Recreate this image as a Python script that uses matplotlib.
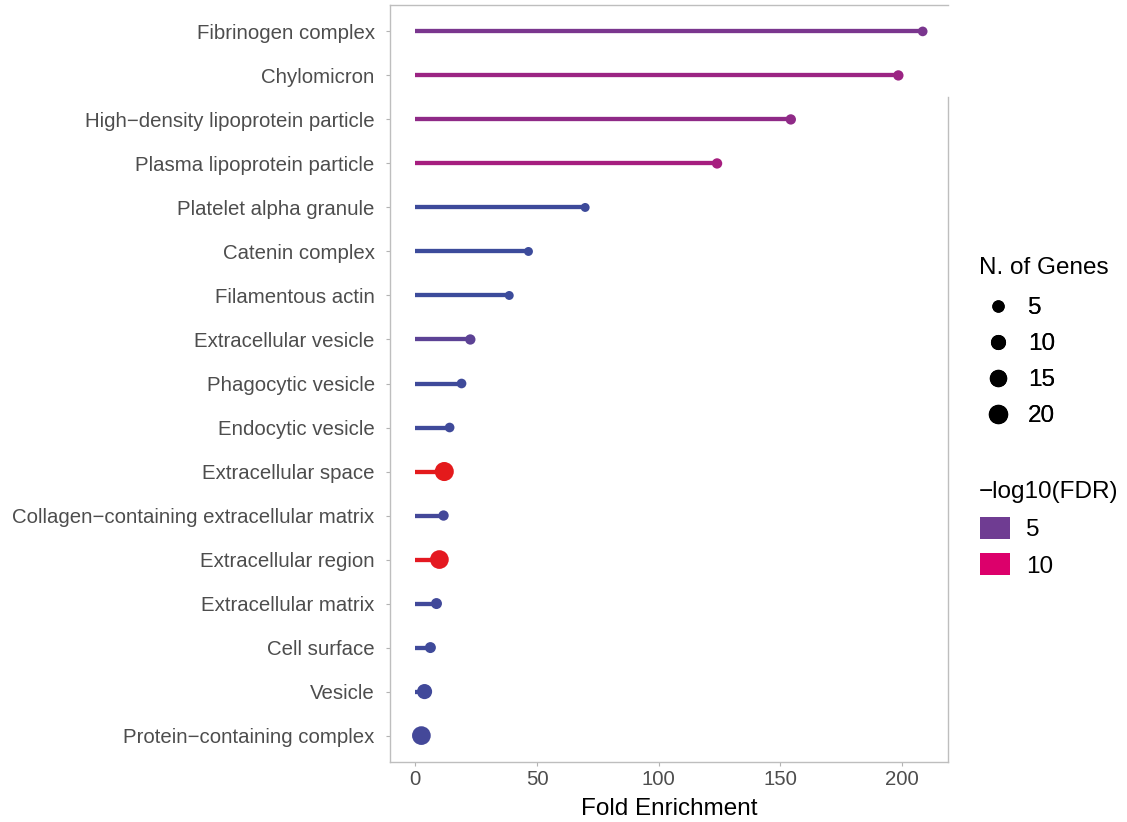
import numpy as np
import matplotlib
matplotlib.use("Agg")
import matplotlib.pyplot as plt
from matplotlib.colors import LinearSegmentedColormap
from matplotlib.lines import Line2D
from matplotlib.patches import Patch

plt.rcParams['font.family'] = ['Liberation Sans', 'DejaVu Sans']

# GO cellular component terms, top to bottom
terms = ["Fibrinogen complex", "Chylomicron", "High\u2212density lipoprotein particle",
         "Plasma lipoprotein particle", "Platelet alpha granule", "Catenin complex",
         "Filamentous actin", "Extracellular vesicle", "Phagocytic vesicle",
         "Endocytic vesicle", "Extracellular space",
         "Collagen\u2212containing extracellular matrix", "Extracellular region",
         "Extracellular matrix", "Cell surface", "Vesicle", "Protein\u2212containing complex"]
fold = [208.5, 198.5, 154.3, 124.0, 69.8, 46.5, 38.6, 22.6, 19.0, 14.1, 11.9,
        11.6, 9.9, 8.7, 6.2, 3.8, 2.5]
genes = [3, 4, 4, 4, 2, 2, 2, 4, 3, 3, 23, 4, 22, 5, 5, 13, 22]
fdr = [5.5, 7.0, 6.5, 7.5, 2.2, 2.1, 2.1, 3.9, 2.3, 2.3, 13.0, 2.6, 12.8, 2.4, 2.3, 2.4, 2.6]

size_breaks = [5, 10, 15, 20]
fdr_breaks = [5, 10]

fdr_lo, fdr_hi = 2.0, 13.0
cmap = LinearSegmentedColormap.from_list("fdr", [
    (0.0, "#3A4B9B"),
    ((5 - fdr_lo) / (fdr_hi - fdr_lo), "#6F3C92"),
    ((10 - fdr_lo) / (fdr_hi - fdr_lo), "#DC006C"),
    (1.0, "#E41A1C")])


def fdr_colour(v):
    return cmap((v - fdr_lo) / (fdr_hi - fdr_lo))


def gene_size(g):
    # marker area in pt^2, area grows linearly with gene count
    return 0.5184 * (53 + 13.5 * g)


W, H = 1127, 822
fig = plt.figure(figsize=(W / 100, H / 100), dpi=100)
ax = fig.add_axes([390 / W, 60 / H, 558 / W, 757 / H])

n = len(terms)
ypos = np.arange(n)[::-1]
colours = [fdr_colour(v) for v in fdr]

for yi, f, c in zip(ypos, fold, colours):
    ax.plot([0, f], [yi, yi], color=c, lw=3.1, solid_capstyle="butt", zorder=2)
ax.scatter(fold, ypos, s=[gene_size(g) for g in genes], c=colours,
           linewidths=0, zorder=3)

ax.set_xlim(-10.4, 218.9)
ax.set_ylim(-0.6, n - 0.4)
ax.set_yticks(ypos)
ax.set_yticklabels(terms)
ax.set_xticks([0, 50, 100, 150, 200])
ax.tick_params(axis="both", labelsize=14.7, labelcolor="#4D4D4D",
               color="#B3B3B3", length=3, width=0.8)
ax.tick_params(axis="y", pad=8)
ax.tick_params(axis="x", pad=3)
ax.set_xlabel("Fold Enrichment", fontsize=17.5, color="black", labelpad=6)

for sp in ax.spines.values():
    sp.set_color("#BEBEBE")
    sp.set_linewidth(1.0)
ax.spines["right"].set_bounds(-0.6, 14.5)

# legend titles as plain text, keys below them
fig.text(979 / W, 1 - 268 / H, "N. of Genes", fontsize=17.5, va="center")
fig.text(979 / W, 1 - 492 / H, "\u2212log10(FDR)", fontsize=17.5, va="center")

size_handles = [Line2D([], [], ls="", marker="o", color="black",
                       markersize=np.sqrt(gene_size(g))) for g in size_breaks]
leg1 = fig.legend(size_handles, [str(b) for b in size_breaks],
                  loc="upper left", bbox_to_anchor=(979 / W, 1 - 297 / H),
                  frameon=False, fontsize=17.5, borderaxespad=0,
                  labelspacing=0.58, handlelength=1.56, handletextpad=0.45,
                  borderpad=0)
fig.add_artist(leg1)

col_handles = [Patch(facecolor=fdr_colour(b), edgecolor="none") for b in fdr_breaks]
fig.legend(col_handles, [str(b) for b in fdr_breaks],
           loc="upper left", bbox_to_anchor=(980 / W, 1 - 517 / H),
           frameon=False, fontsize=17.5, borderaxespad=0,
           labelspacing=0.5, handlelength=1.23, handleheight=1.0,
           handletextpad=0.66, borderpad=0)

fig.savefig("out.png", dpi=100)
